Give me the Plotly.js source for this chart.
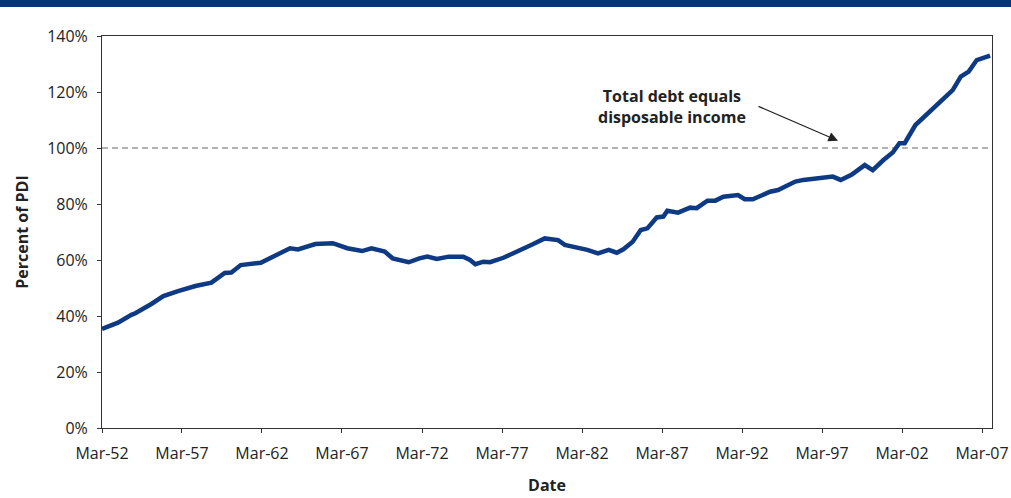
<!DOCTYPE html>
<html>
<head>
<meta charset="utf-8">
<script src="https://cdn.plot.ly/plotly-3.0.1.min.js"></script>
<style>
html,body{margin:0;padding:0;background:#fff;}
#chart{width:1011px;height:498px;}
</style>
</head>
<body>
<div id="chart"></div>
<script>
// Household debt as percent of personal disposable income
var dates = [
 "1952-03-01","1953-03-01","1954-01-01","1954-04-01","1955-04-01","1956-01-01","1956-12-01","1958-01-01",
 "1959-01-01","1959-04-01","1959-11-01","1960-04-01","1960-11-01","1962-02-01","1963-01-01","1963-12-01",
 "1964-06-01","1965-07-01","1966-08-01","1967-07-01","1968-06-01","1969-01-01","1969-11-01","1970-05-01",
 "1971-05-01","1972-01-01","1972-07-01","1973-02-01","1973-11-01","1974-10-01","1975-03-01","1975-07-01",
 "1976-01-01","1976-06-01","1977-04-01","1978-04-01","1979-02-01","1979-11-01","1980-05-01","1980-09-01",
 "1981-02-01","1981-11-01","1982-07-01","1983-03-01","1983-11-01","1984-05-01","1984-10-01","1985-05-01",
 "1985-11-01","1986-04-01","1986-11-01","1987-04-01","1987-07-01","1988-03-01","1988-12-01","1989-05-01",
 "1990-01-01","1990-07-01","1991-01-01","1991-12-01","1992-05-01","1992-11-01","1993-07-01","1993-12-01",
 "1994-06-01","1995-07-01","1996-01-01","1997-01-01","1997-11-01","1998-05-01","1999-01-01","1999-11-01",
 "2000-05-01","2001-01-01","2001-08-01","2002-01-01","2002-05-01","2003-01-01","2003-08-01","2004-02-01",
 "2004-10-01","2005-05-01","2005-11-01","2006-05-01","2006-11-01","2007-04-01","2007-09-01"
];
var debtPct = [
 35.4,37.6,40.4,41.0,44.3,47.1,48.9,50.7,
 51.9,52.9,55.4,55.5,58.2,59.0,61.4,64.2,
 63.8,65.7,66.0,64.2,63.2,64.2,63.0,60.6,
 59.2,60.6,61.2,60.4,61.2,61.2,60.0,58.5,
 59.4,59.2,60.8,63.2,65.6,67.7,67.5,67.1,
 65.4,64.5,63.6,62.4,63.6,62.6,63.8,66.5,
 70.7,71.3,75.2,75.5,77.6,76.9,78.7,78.5,
 81.2,81.2,82.6,83.2,81.7,81.7,83.2,84.4,
 85.0,88.0,88.6,89.4,89.8,88.6,90.4,93.9,
 92.1,95.7,98.4,101.7,101.7,108.2,111.2,114.2,
 117.7,120.7,125.5,127.3,131.4,132.0,133.0
];
var tickDates = ["1952-03-01","1957-03-01","1962-03-01","1967-03-01","1972-03-01","1977-03-01",
 "1982-03-01","1987-03-01","1992-03-01","1997-03-01","2002-03-01","2007-03-01"];
var tickLabels = ["Mar-52","Mar-57","Mar-62","Mar-67","Mar-72","Mar-77",
 "Mar-82","Mar-87","Mar-92","Mar-97","Mar-02","Mar-07"];
var yTicks = [0,20,40,60,80,100,120,140];
var yTickLabels = ["0%","20%","40%","60%","80%","100%","120%","140%"];
var thresholdPct = 100;
var noteText = "Total debt equals<br>disposable income";
var noteDate = "1998-03-01";
var noteValue = 102.6;

var font = "'Open Sans', 'Noto Sans', sans-serif";

var trace = {
  x: dates, y: debtPct, type: 'scatter', mode: 'lines',
  line: {color: '#0E3A84', width: 4.5},
  hoverinfo: 'skip', showlegend: false
};

var layout = {
  width: 1011, height: 498,
  margin: {l: 102, r: 19, t: 36, b: 70},
  paper_bgcolor: '#ffffff', plot_bgcolor: '#ffffff',
  font: {family: font, size: 16, color: '#222'},
  showlegend: false,
  xaxis: {
    type: 'date', range: ['1952-03-01', '2007-10-15'],
    tickmode: 'array', tickvals: tickDates, ticktext: tickLabels,
    ticks: 'outside', ticklen: 4, tickcolor: '#333', tickwidth: 1,
    ticklabelstandoff: 7,
    showgrid: false, zeroline: false,
    showline: true, mirror: true, linecolor: '#333', linewidth: 1,
    tickfont: {family: font, size: 16, color: '#222'},
    title: {text: 'Date', font: {family: font, size: 16, color: '#222', weight: 'bold'}, standoff: 16}
  },
  yaxis: {
    range: [0, 140], tickmode: 'array', tickvals: yTicks, ticktext: yTickLabels,
    ticks: 'outside', ticklen: 4, tickcolor: '#333', tickwidth: 1,
    ticklabelstandoff: 6,
    showgrid: false, zeroline: false,
    showline: true, mirror: true, linecolor: '#333', linewidth: 1,
    tickfont: {family: font, size: 16, color: '#222'},
    title: {text: 'Percent of PDI', font: {family: font, size: 16, color: '#222', weight: 'bold'}, standoff: 14}
  },
  shapes: [
    {type: 'line', xref: 'paper', yref: 'y', x0: 0, x1: 1, y0: thresholdPct, y1: thresholdPct,
     line: {color: '#666', width: 1.2, dash: '6px,4px'}, layer: 'below'},
    {type: 'rect', xref: 'paper', yref: 'paper', x0: -0.2, x1: 1.1, y0: 1.074, y1: 1.1,
     fillcolor: '#08347A', line: {width: 0}}
  ],
  annotations: [
    {xref: 'x', yref: 'y', x: noteDate, y: noteValue, text: '', showarrow: true,
     axref: 'pixel', ayref: 'pixel', ax: -81, ay: -35,
     arrowhead: 2, arrowsize: 1.6, arrowwidth: 1.2, arrowcolor: '#222', standoff: 0},
    {xref: 'paper', yref: 'paper', x: (672 - 102) / 890, y: (498 - 70 - 106) / 392,
     xanchor: 'center', yanchor: 'middle', showarrow: false, align: 'center',
     text: noteText, font: {family: font, size: 16, color: '#222', weight: 'bold'}}
  ]
};

Plotly.newPlot('chart', [trace], layout, {displayModeBar: false, staticPlot: true});
</script>
</body>
</html>
